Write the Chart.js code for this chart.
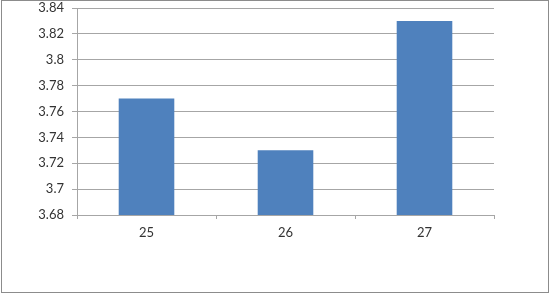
<!DOCTYPE html>
<html>
<head>
<meta charset="utf-8">
<script src="https://cdn.jsdelivr.net/npm/chart.js@4/dist/chart.umd.min.js"></script>
<style>
  html, body { margin: 0; padding: 0; background: #fff; }
  #wrap { position: relative; width: 550px; height: 294px; }
  #frame {
    position: absolute; left: 1px; top: 0; width: 548px; height: 293px;
    box-sizing: border-box; border: 1px solid #8c8c8c; pointer-events: none;
  }
</style>
</head>
<body>
<div id="wrap">
  <canvas id="myChart" width="550" height="294"></canvas>
  <div id="frame"></div>
</div>
<script>
var categories = ["25", "26", "27"];
var values = [3.77, 3.73, 3.83];
var yTicks = [3.68, 3.7, 3.72, 3.74, 3.76, 3.78, 3.8, 3.82, 3.84];

var gridColor = '#a6a6a6';

var config = {
  type: 'bar',
  data: {
    labels: categories,
    datasets: [{
      label: 'Series1',
      data: values,
      backgroundColor: '#4f81bd',
      borderWidth: 0,
      categoryPercentage: 1,
      barPercentage: 0.4
    }]
  },
  options: {
    responsive: false,
    animation: false,
    layout: { padding: { left: 0, top: 0, right: 56, bottom: 0 } },
    plugins: {
      legend: { display: false },
      tooltip: { enabled: false }
    },
    scales: {
      x: {
        afterFit: function (scale) { scale.height = 79; },
        grid: {
          drawOnChartArea: false,
          drawTicks: true,
          tickLength: 4,
          color: gridColor,
          offset: true
        },
        border: { display: true, color: gridColor },
        ticks: {
          padding: 6,
          color: '#333',
          font: { family: 'Lato', size: 13 }
        }
      },
      y: {
        min: yTicks[0],
        max: yTicks[yTicks.length - 1],
        afterFit: function (scale) {
          scale.width = 77;
          scale.paddingTop = 8;
          scale.paddingBottom = 0;
        },
        afterBuildTicks: function (scale) {
          scale.ticks = yTicks.map(function (v) { return { value: v }; });
        },
        grid: {
          color: gridColor,
          tickLength: 5,
          drawTicks: true
        },
        border: { display: true, color: gridColor },
        ticks: {
          padding: 8,
          color: '#333',
          font: { family: 'Lato', size: 13 },
          callback: function (v) { return String(+Number(v).toFixed(2)); }
        }
      }
    }
  }
};

var chart = new Chart(document.getElementById('myChart'), config);
</script>
</body>
</html>
